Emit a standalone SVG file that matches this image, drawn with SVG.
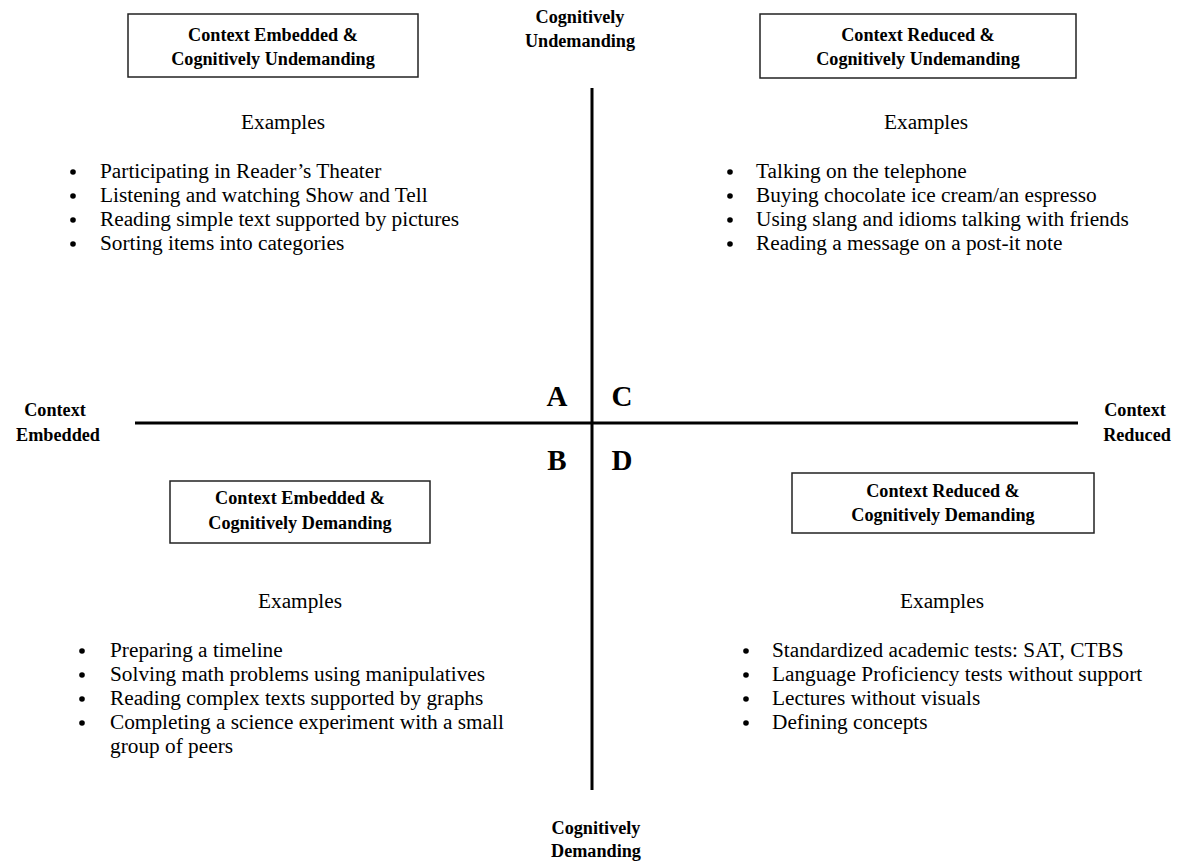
<svg xmlns="http://www.w3.org/2000/svg" width="1197" height="862" viewBox="0 0 1197 862">
<style>
.b{font-family:"Liberation Serif",serif;font-weight:bold;font-size:18.2px;fill:#000;text-anchor:middle}
.L{font-family:"Liberation Serif",serif;font-weight:bold;font-size:29px;fill:#000;text-anchor:middle}
.t{font-family:"Liberation Serif",serif;font-size:21.3px;fill:#000}
.c{text-anchor:middle}
.dot{fill:#000}
.box{fill:#fff;stroke:#222;stroke-width:1.5}
.ax{stroke:#000;stroke-width:3}
</style>
<rect width="1197" height="862" fill="#fff"/>
<g id="axes">
<line class="ax" x1="592" y1="88" x2="592" y2="790"/>
<line class="ax" x1="135" y1="423" x2="1078" y2="423"/>
</g>
<g id="axis-labels">
<text class="b" x="580" y="23">Cognitively</text>
<text class="b" x="580" y="47">Undemanding</text>
<text class="b" x="596" y="834">Cognitively</text>
<text class="b" x="596" y="857">Demanding</text>
<text class="b" x="55" y="416">Context</text>
<text class="b" x="58" y="441">Embedded</text>
<text class="b" x="1135" y="416">Context</text>
<text class="b" x="1137" y="441">Reduced</text>
<text class="L" x="557" y="406">A</text>
<text class="L" x="622" y="406">C</text>
<text class="L" x="557" y="470">B</text>
<text class="L" x="622" y="470">D</text>
</g>
<g id="quadrant-A">
<rect class="box" x="128" y="14" width="290" height="63"/>
<text class="b" x="273" y="41">Context Embedded &amp;</text>
<text class="b" x="273" y="65">Cognitively Undemanding</text>
<text class="t c" x="283" y="129">Examples</text>
<circle class="dot" cx="73" cy="172" r="2.8"/><circle class="dot" cx="73" cy="196" r="2.8"/><circle class="dot" cx="73" cy="220" r="2.8"/><circle class="dot" cx="73" cy="244" r="2.8"/>
<g class="t">
<text x="100" y="178">Participating in Reader’s Theater</text>
<text x="100" y="202">Listening and watching Show and Tell</text>
<text x="100" y="226">Reading simple text supported by pictures</text>
<text x="100" y="250">Sorting items into categories</text>
</g>
</g>
<g id="quadrant-C">
<rect class="box" x="760" y="14" width="316" height="64"/>
<text class="b" x="918" y="41">Context Reduced &amp;</text>
<text class="b" x="918" y="65">Cognitively Undemanding</text>
<text class="t c" x="926" y="129">Examples</text>
<circle class="dot" cx="730" cy="172" r="2.8"/><circle class="dot" cx="730" cy="196" r="2.8"/><circle class="dot" cx="730" cy="220" r="2.8"/><circle class="dot" cx="730" cy="244" r="2.8"/>
<g class="t">
<text x="756" y="178">Talking on the telephone</text>
<text x="756" y="202">Buying chocolate ice cream/an espresso</text>
<text x="756" y="226">Using slang and idioms talking with friends</text>
<text x="756" y="250">Reading a message on a post-it note</text>
</g>
</g>
<g id="quadrant-B">
<rect class="box" x="170" y="481" width="260" height="62"/>
<text class="b" x="300" y="504">Context Embedded &amp;</text>
<text class="b" x="300" y="529">Cognitively Demanding</text>
<text class="t c" x="300" y="608">Examples</text>
<circle class="dot" cx="82" cy="651" r="2.8"/><circle class="dot" cx="82" cy="675" r="2.8"/><circle class="dot" cx="82" cy="699" r="2.8"/><circle class="dot" cx="82" cy="723" r="2.8"/>
<g class="t">
<text x="110" y="657">Preparing a timeline</text>
<text x="110" y="681">Solving math problems using manipulatives</text>
<text x="110" y="705">Reading complex texts supported by graphs</text>
<text x="110" y="729">Completing a science experiment with a small</text>
<text x="110" y="753">group of peers</text>
</g>
</g>
<g id="quadrant-D">
<rect class="box" x="792" y="473" width="302" height="60"/>
<text class="b" x="943" y="497">Context Reduced &amp;</text>
<text class="b" x="943" y="521">Cognitively Demanding</text>
<text class="t c" x="942" y="608">Examples</text>
<circle class="dot" cx="746" cy="651" r="2.8"/><circle class="dot" cx="746" cy="675" r="2.8"/><circle class="dot" cx="746" cy="699" r="2.8"/><circle class="dot" cx="746" cy="723" r="2.8"/>
<g class="t">
<text x="772" y="657">Standardized academic tests: SAT, CTBS</text>
<text x="772" y="681">Language Proficiency tests without support</text>
<text x="772" y="705">Lectures without visuals</text>
<text x="772" y="729">Defining concepts</text>
</g>
</g>
</svg>
